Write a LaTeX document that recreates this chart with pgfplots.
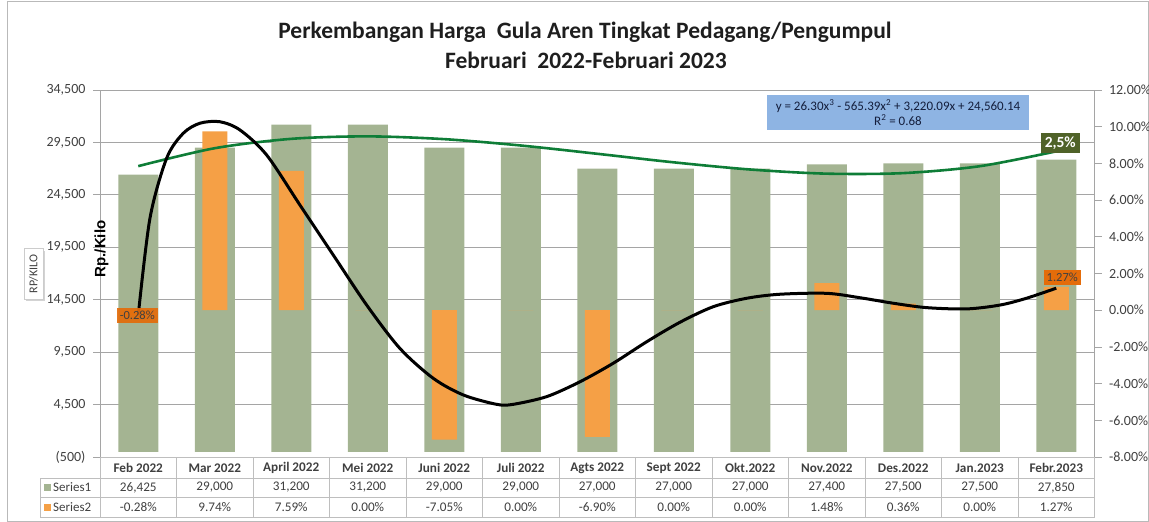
\documentclass[border=0pt]{standalone}
\usepackage{pgfplots}
\pgfplotsset{compat=1.18}
\usepackage{fontspec}
\setmainfont{Carlito}
\newfontfamily\arial{Liberation Sans}
\usetikzlibrary{shadows}

\definecolor{gbar}{RGB}{164,180,146}
\definecolor{obar}{RGB}{245,160,70}
\definecolor{olab}{RGB}{228,108,10}
\definecolor{trend}{RGB}{14,125,55}
\definecolor{dkgreen}{RGB}{79,98,40}
\definecolor{eqblue}{RGB}{142,180,227}
\definecolor{gridc}{RGB}{165,165,165}
\definecolor{tabc}{RGB}{190,190,190}
\definecolor{txt}{RGB}{64,64,64}

\pgfplotsset{
  base/.style={
    at={(100bp,-457bp)}, anchor=south west,
    scale only axis, width=994.5bp, height=367bp,
    xmin=0.5, xmax=13.5,
    clip=false,
  },
}

\begin{document}
\begin{tikzpicture}
\path[use as bounding box] (0,0) rectangle (1149bp,-522bp);
\draw[gray!55, line width=0.8bp] (7bp,-1bp) rectangle (1148.5bp,-521.5bp);

% left axis: Series1 bars
\begin{axis}[base,
  ymin=-500, ymax=34500,
  xtick=\empty,
  scaled y ticks=false,
  ytick={-500,4500,9500,14500,19500,24500,29500,34500},
  yticklabels={{(500)},{4,500},{9,500},{14,500},{19,500},{24,500},{29,500},{34,500}},
  ytick pos=left,
  ymajorgrids, grid style={gridc, line width=0.8bp},
  axis line style={gridc, line width=0.8bp},
  tick align=outside, major tick length=7bp,
  tick style={gridc, line width=0.8bp},
  yticklabel style={font=\fontsize{14bp}{16bp}\selectfont, text=txt, xshift=-4bp},
]
\addplot[ybar, bar width=40bp, fill=gbar, draw=none] coordinates {
(1,26425) (2,29000) (3,31200) (4,31200) (5,29000) (6,29000) (7,27000)
(8,27000) (9,27000) (10,27400) (11,27500) (12,27500) (13,27850)};
\end{axis}

% right axis: Series2 bars
\begin{axis}[base,
  ymin=-8, ymax=12,
  axis x line=none,
  axis y line*=right,
  scaled y ticks=false,
  ytick={-8,-6,...,12},
  yticklabels={{-8.00\%},{-6.00\%},{-4.00\%},{-2.00\%},{0.00\%},{2.00\%},{4.00\%},{6.00\%},{8.00\%},{10.00\%},{12.00\%}},
  axis line style={gridc, line width=0.8bp},
  tick align=outside, major tick length=7bp,
  tick style={gridc, line width=0.8bp},
  yticklabel style={font=\fontsize{14bp}{16bp}\selectfont, text=txt, xshift=4bp},
]
\addplot[ybar, bar width=25bp, fill=obar, draw=none] coordinates {
(1,-0.28) (2,9.74) (3,7.59) (4,0.00) (5,-7.05) (6,0.00) (7,-6.90)
(8,0.00) (9,0.00) (10,1.48) (11,0.36) (12,0.00) (13,1.27)};
\end{axis}

% left scale: polynomial trend of Series1
\begin{axis}[base, ymin=-500, ymax=34500, hide axis]
\addplot[trend, line width=2.6bp, smooth] coordinates {
(1,27241.14) (2,28949.16) (3,29842.00) (4,30077.46) (5,29813.34) (6,29207.44)
(7,28417.56) (8,27601.50) (9,26918.06) (10,26522.04) (11,26574.24) (12,27231.46) (13,28651.50)};
\node[fill=dkgreen, text=white, font=\fontsize{15.5bp}{17bp}\selectfont\bfseries,
  inner xsep=4bp, inner ysep=3.5bp, anchor=south] at (axis cs:13,28651.5) [xshift=4bp, yshift=-2bp] {2,5\%};
\end{axis}

% right scale: smoothed Series2 curve
\begin{axis}[base, ymin=-8, ymax=12, hide axis]
\addplot[black, line width=3bp, smooth] coordinates {
(1,-0.28) (1.153,5.01) (1.371,8.28) (1.588,9.64) (1.807,10.19) (2.068,10.27)
(2.33,9.82) (2.678,8.46) (3.114,5.73) (3.549,3.01) (3.986,0.28) (4.42,-2.08)
(4.856,-3.71) (5.25,-4.62) (5.685,-5.13) (5.90,-5.13) (6.339,-4.71) (6.774,-3.90)
(7.209,-2.89) (7.646,-1.72) (8.08,-0.66) (8.516,0.19) (8.953,0.65) (9.388,0.87)
(9.999,0.92) (10.434,0.68) (10.869,0.38) (11.305,0.14) (11.828,0.07) (12.264,0.28)
(12.61,0.65) (13,1.2)};
\node[fill=olab, text=txt, font=\fontsize{12.5bp}{14bp}\selectfont,
  inner xsep=3bp, inner ysep=3bp, opacity=0.92, text opacity=1] at (axis cs:1,-0.28) [xshift=-1bp] {-0.28\%};
\node[fill=olab, text=txt, font=\fontsize{12.5bp}{14bp}\selectfont,
  inner xsep=3bp, inner ysep=3bp, anchor=south] at (axis cs:13,1.27) [xshift=6bp, yshift=2bp] {1.27\%};
\end{axis}

\begin{scope}[x=1bp, y=-1bp]
% titles
\node[font=\fontsize{23.5bp}{26bp}\selectfont\bfseries, text={rgb,255:red,30;green,30;blue,30}] at (585,32) {Perkembangan Harga\ \ Gula Aren Tingkat Pedagang/Pengumpul};
\node[font=\fontsize{23.5bp}{26bp}\selectfont\bfseries, text={rgb,255:red,30;green,30;blue,30}] at (586,60) {Februari\ \ 2022-Februari 2023};
% equation box
\node[fill=eqblue, minimum width=262bp, minimum height=35bp, align=center,
  font=\fontsize{13bp}{15bp}\selectfont, text={rgb,255:red,20;green,30;blue,60}] at (898,112.5)
  {y = 26.30x\textsuperscript{3} - 565.39x\textsuperscript{2} + 3,220.09x + 24,560.14\\ R\textsuperscript{2} = 0.68};
% axis titles
\node[rotate=90, font=\arial\bfseries\fontsize{15bp}{17bp}\selectfont] at (101.5,249) {Rp./Kilo};
\node[rotate=90, draw=gray!40, fill=white, drop shadow={shadow xshift=2bp, shadow yshift=-2bp, opacity=0.35},
  font=\fontsize{12bp}{14bp}\selectfont, text=txt, inner xsep=6bp, inner ysep=5bp] at (33.5,274) {RP/KILO};
% data table
\draw[tabc, line width=0.8bp] (100,457) -- (1094.5,457);
\draw[tabc, line width=0.8bp] (40,478) -- (1094.5,478);
\draw[tabc, line width=0.8bp] (40,497) -- (1094.5,497);
\draw[tabc, line width=0.8bp] (40,517) -- (1094.5,517);
\draw[tabc, line width=0.8bp] (40,478) -- (40,517);
\foreach \k in {0,...,13} {
  \draw[tabc, line width=0.8bp] ({100+76.5*\k},457) -- ({100+76.5*\k},517);
}
\foreach \lab [count=\i from 0] in {Feb 2022,Mar 2022,April 2022,Mei 2022,Juni 2022,Juli 2022,Agts 2022,Sept 2022,Okt.2022,Nov.2022,Des.2022,Jan.2023,Febr.2023} {
  \node[font=\fontsize{13.2bp}{15bp}\selectfont\bfseries, text=txt] at ({138.25+76.5*\i},468) {\lab};
}
\foreach \lab [count=\i from 0] in {{26,425},{29,000},{31,200},{31,200},{29,000},{29,000},{27,000},{27,000},{27,000},{27,400},{27,500},{27,500},{27,850}} {
  \node[font=\fontsize{13.2bp}{15bp}\selectfont, text=txt] at ({138.25+76.5*\i},487.5) {\lab};
}
\foreach \lab [count=\i from 0] in {-0.28\%,9.74\%,7.59\%,0.00\%,-7.05\%,0.00\%,-6.90\%,0.00\%,0.00\%,1.48\%,0.36\%,0.00\%,1.27\%} {
  \node[font=\fontsize{13.2bp}{15bp}\selectfont, text=txt] at ({138.25+76.5*\i},507) {\lab};
}
\fill[gbar] (44,484) rectangle (51,491);
\fill[obar] (44,503.5) rectangle (51,510.5);
\node[anchor=west, font=\fontsize{13bp}{15bp}\selectfont, text=txt, inner sep=0pt] at (53,487.5) {Series1};
\node[anchor=west, font=\fontsize{13bp}{15bp}\selectfont, text=txt, inner sep=0pt] at (53,507) {Series2};
\end{scope}
\end{tikzpicture}
\end{document}
